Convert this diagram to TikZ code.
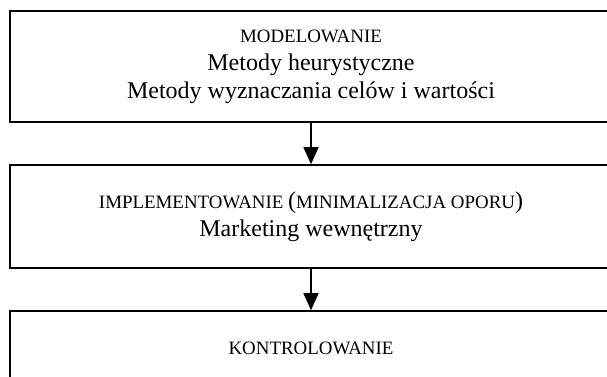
\documentclass[tikz,border=0pt]{standalone}
\usepackage{fontspec}
\setmainfont{Liberation Serif}
\usepackage{tikz}
\usetikzlibrary{arrows.meta}
\usetikzlibrary{positioning}

\newcommand{\capsline}[1]{{\fontsize{18.9}{27}\selectfont #1}}

\begin{document}
\begin{tikzpicture}[x=1pt,y=1pt]
	\clip (0,0) rectangle (607,-376);
	\begin{scope}[every node/.style={rectangle,draw,line width=1.6pt,inner sep=0pt,minimum width=602pt,align=center,font=\fontsize{24}{28}\selectfont}]
		\node[minimum height=111pt] (1) at (311,-66.5) {\capsline{MODELOWANIE}\\Metody heurystyczne\\Metody wyznaczania celów i wartości};
		\node[minimum height=103pt] (2) at (311,-216.5) {\capsline{IMPLEMENTOWANIE }(\capsline{MINIMALIZACJA OPORU})\\Marketing wewnętrzny};
		\node[minimum height=74pt] (3) at (311,-348) {\capsline{KONTROLOWANIE}};
	\end{scope}

	\begin{scope}[>={Triangle[length=17pt,width=15pt]},
	              every edge/.style={draw=black,line width=1.6pt}]
		\path (1) edge[->] (2);
		\path (2) edge[->] (3);
	\end{scope}
\end{tikzpicture}
\end{document}
